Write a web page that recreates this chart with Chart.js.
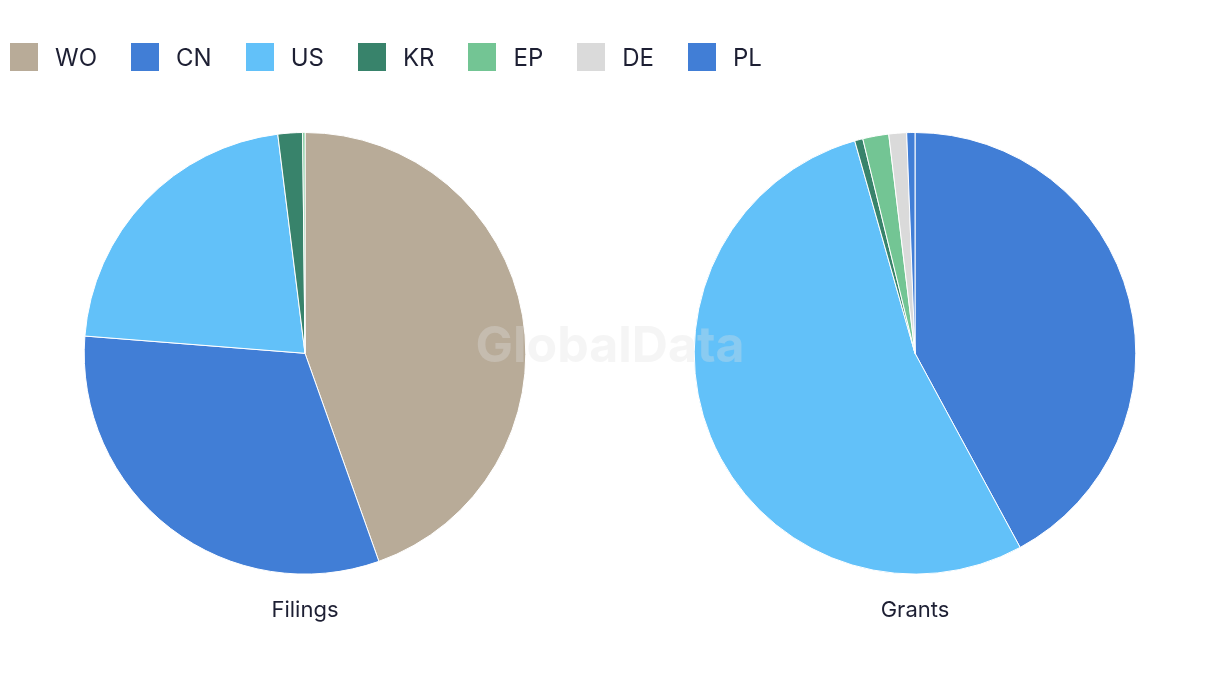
<!DOCTYPE html>
<html>
<head>
<meta charset="utf-8">
<script src="https://cdn.jsdelivr.net/npm/chart.js@4/dist/chart.umd.min.js"></script>
<style>
    body { margin: 0; background: #fff; }
    #wrap { position: relative; width: 1220px; height: 686px; overflow: hidden; font-family: Inter, "Noto Sans", sans-serif; }
    #legend { position: absolute; left: 10px; top: 43px; display: flex; z-index: 3; }
    .item { display: flex; align-items: center; margin-right: 34px; color: #1d1f33; font-size: 24px; height: 28px; }
    .item span.box { width: 28px; height: 28px; margin-right: 17px; display: inline-block; }
    .pie { position: absolute; top: 0; width: 610px; height: 686px; }
    #watermark { position: absolute; left: 0; width: 1220px; top: 314px; text-align: center; font: bold 50px Inter, "Noto Sans", sans-serif; color: rgba(225, 225, 225, 0.32); z-index: 2; pointer-events: none; }
</style>
</head>
<body>
<div id="wrap">
    <div id="legend"></div>
    <div class="pie" style="left:0"><canvas id="graficaFilings"></canvas></div>
    <div class="pie" style="left:610px"><canvas id="graficaGrants"></canvas></div>
    <div id="watermark">GlobalData</div>
</div>
<script>
const offices = ['WO', 'CN', 'US', 'KR', 'EP', 'DE', 'PL'];
const officeColors = ['#b8ab98', '#417ed6', '#62c1f9', '#38836b', '#73c594', '#dadada', '#417ed6'];
const filings = [44.6, 31.7, 21.8, 1.8, 0.17, 0, 0];
const grants = [0, 42.1, 53.5, 0.6, 1.9, 1.3, 0.6];

function crearPie(id, titulo, valores) {
    const canvas = document.getElementById(id);
    return new Chart(canvas, {
        type: 'pie',
        data: {
            labels: offices,
            datasets: [{
                data: valores,
                backgroundColor: officeColors,
                borderColor: '#ffffff',
                borderWidth: 1
            }]
        },
        options: {
            responsive: true,
            maintainAspectRatio: false,
            animation: false,
            layout: {
                padding: { top: 132, bottom: 62, left: 0, right: 0 }
            },
            plugins: {
                legend: { display: false },
                tooltip: { enabled: false },
                title: {
                    display: true,
                    position: 'bottom',
                    text: titulo,
                    color: '#1d1f33',
                    font: { family: 'Inter, "Noto Sans", sans-serif', size: 22, weight: 'normal' },
                    padding: { top: 23, bottom: 0 }
                }
            }
        }
    });
}

const chartFilings = crearPie('graficaFilings', 'Filings', filings);
crearPie('graficaGrants', 'Grants', grants);

// legend built from the chart's own legend items
const legendDiv = document.getElementById('legend');
chartFilings.options.plugins.legend.labels.generateLabels(chartFilings).forEach((item) => {
    const el = document.createElement('div');
    el.className = 'item';
    const box = document.createElement('span');
    box.className = 'box';
    box.style.background = officeColors[item.index];
    el.appendChild(box);
    el.appendChild(document.createTextNode(item.text));
    legendDiv.appendChild(el);
});
</script>
</body>
</html>
